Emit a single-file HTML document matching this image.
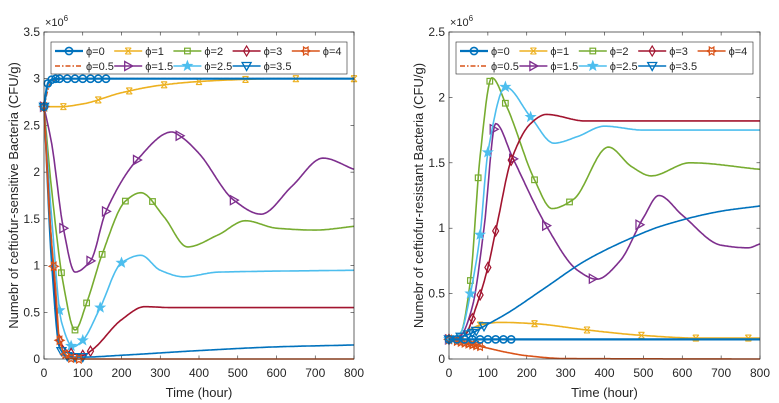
<!DOCTYPE html>
<html><head><meta charset="utf-8">
<style>
html,body{margin:0;padding:0;background:#fff;}
svg{display:block;font-family:"Liberation Sans",sans-serif;}
</style></head>
<body>
<svg id="c" width="779" height="403" viewBox="0 0 779 403"></svg>
<script>
// ---- Data (values in units of 1e6 CFU/g) ----
const L_t0=[0,10,20,30,40,60,80,100,120,140,160,800];
const L_v0=[2.7,2.95,2.99,3.0,3.0,3.0,3.0,3.0,3.0,3.0,3.0,3.0];
const L_t05=[0,10,20,30,50,100,800];
const L_v05=[2.7,2.88,2.97,2.99,3.0,3.0,3.0];
const L_t1=[0,40,100,200,300,400,500,600,800];
const L_v1=[2.7,2.7,2.73,2.85,2.93,2.97,2.99,3.0,3.0];
const L_t15=[0,20,50,80,120,160,240,330,350,400,490,560,640,720,800];
const L_v15=[2.7,2.3,1.4,0.93,1.05,1.58,2.13,2.43,2.39,2.2,1.7,1.55,1.85,2.15,2.03];
const L_t2=[0,20,50,80,110,150,210,250,310,370,450,520,600,700,800];
const L_v2=[2.7,1.8,0.8,0.31,0.6,1.12,1.69,1.78,1.52,1.2,1.33,1.48,1.4,1.38,1.42];
const L_t25=[0,20,45,75,100,145,200,250,300,360,450,800];
const L_v25=[2.7,1.5,0.4,0.13,0.2,0.55,1.03,1.11,0.95,0.88,0.93,0.95];
const L_t3=[0,20,40,70,100,125,200,260,330,800];
const L_v3=[2.7,1.2,0.2,0.06,0.04,0.1,0.42,0.56,0.55,0.55];
const L_t35=[0,20,40,60,80,100,200,400,600,800];
const L_v35=[2.7,1.0,0.12,0.03,0.02,0.02,0.04,0.09,0.13,0.15];
const L_t4=[0,15,30,40,55,70,90,800];
const L_v4=[2.7,1.5,0.75,0.2,0.05,0.01,0.0,0.0];

const R_t0=[0,40,80,120,160,800];
const R_v0=[0.15,0.15,0.15,0.15,0.15,0.15];
const R_t05=[0,100,800];
const R_v05=[0.15,0.15,0.15];
const R_t1=[0,40,80,130,220,360,500,640,770,800];
const R_v1=[0.15,0.2,0.26,0.28,0.27,0.22,0.18,0.16,0.16,0.16];
const R_t15=[0,30,60,90,120,165,250,330,380,440,500,540,600,700,770,800];
const R_v15=[0.15,0.18,0.4,1.0,1.8,1.53,1.02,0.68,0.61,0.75,1.08,1.25,1.1,0.87,0.85,0.88];
const R_t2=[0,30,55,80,110,150,220,265,320,410,470,520,620,800];
const R_v2=[0.15,0.2,0.6,1.55,2.15,1.92,1.37,1.15,1.22,1.62,1.47,1.4,1.5,1.45];
const R_t25=[0,30,55,80,100,145,210,270,330,400,500,800];
const R_v25=[0.15,0.2,0.5,0.95,1.58,2.08,1.85,1.65,1.7,1.78,1.75,1.75];
const R_t3=[0,40,70,100,125,160,210,250,350,800];
const R_v3=[0.15,0.18,0.4,0.7,1.05,1.52,1.8,1.87,1.82,1.82];
const R_t35=[0,30,60,90,150,250,350,450,550,700,800];
const R_v35=[0.15,0.17,0.2,0.25,0.35,0.55,0.75,0.9,1.02,1.13,1.17];
const R_t4=[0,30,60,90,150,200,300,800];
const R_v4=[0.15,0.13,0.11,0.09,0.05,0.025,0.003,0.0];

// marker times (hours) per series
const L_m0=[0,10,20,30,40,60,80,100,120,140,160];
const L_m05=[];
const L_m1=[0,50,140,220,310,400,520,650,800];
const L_m15=[0,50,120,160,240,350,490];
const L_m2=[0,45,80,110,150,210,280];
const L_m25=[0,40,70,100,145,200];
const L_m3=[0,40,70,100,120];
const L_m35=[0,45,60,80,100];
const L_m4=[0,25,40,55,70,90];
const R_m0=[0,20,40,60,80,100,120,140,160];
const R_m05=[];
const R_m1=[0,80,220,355,495,635,770];
const R_m15=[0,115,165,250,370,490];
const R_m2=[0,55,75,105,145,220,310];
const R_m25=[0,55,80,100,145,210];
const R_m3=[0,60,80,100,120,160];
const R_m35=[0,30,50,60,70,90];
const R_m4=[0,20,30,40,50,60,70,80];

const xTicks=[0,100,200,300,400,500,600,700,800];
const yTicksL=[0,0.5,1,1.5,2,2.5,3,3.5];
const yTicksR=[0,0.5,1,1.5,2,2.5];
const legendLabels=["\u03d5=0","\u03d5=1","\u03d5=2","\u03d5=3","\u03d5=4","\u03d5=0.5","\u03d5=1.5","\u03d5=2.5","\u03d5=3.5"];

const DATA={
 L_t0,L_v0,L_t05,L_v05,L_t1,L_v1,L_t15,L_v15,L_t2,L_v2,L_t25,L_v25,L_t3,L_v3,L_t35,L_v35,L_t4,L_v4,
 R_t0,R_v0,R_t05,R_v05,R_t1,R_v1,R_t15,R_v15,R_t2,R_v2,R_t25,R_v25,R_t3,R_v3,R_t35,R_v35,R_t4,R_v4,
 L_m0,L_m05,L_m1,L_m15,L_m2,L_m25,L_m3,L_m35,L_m4,R_m0,R_m05,R_m1,R_m15,R_m2,R_m25,R_m3,R_m35,R_m4
};

const C={b:"#0072BD",o:"#D95319",y:"#EDB120",p:"#7E2F8E",g:"#77AC30",c:"#4DBEEE",r:"#A2142F"};
const styles=[
 {k:"0",col:C.b,m:"o",w:2.2},{k:"05",col:C.o,m:"",w:1.6,dash:"5,2,1.5,2"},
 {k:"1",col:C.y,m:"x",w:1.6},{k:"15",col:C.p,m:">",w:1.6},
 {k:"2",col:C.g,m:"s",w:1.6},{k:"25",col:C.c,m:"*",w:1.6},
 {k:"3",col:C.r,m:"d",w:1.6},{k:"35",col:C.b,m:"v",w:1.6},
 {k:"4",col:C.o,m:"h",w:1.6}];
const drawOrder=["1","15","2","25","3","35","4","05","0"];
const legendOrder=["0","1","2","3","4","05","15","25","35"];

const NS="http://www.w3.org/2000/svg";
const svg=document.getElementById("c");
function el(tag,attrs,parent){const e=document.createElementNS(NS,tag);for(const a in attrs)e.setAttribute(a,attrs[a]);(parent||svg).appendChild(e);return e;}

function slopes(xs,ys){
 const m=xs.length,d=[],s=[];
 for(let i=0;i<m-1;i++)d.push((ys[i+1]-ys[i])/(xs[i+1]-xs[i]));
 for(let i=0;i<m;i++){
  if(i==0)s.push(d[0]);else if(i==m-1)s.push(d[m-2]);
  else s.push(d[i-1]*d[i]<=0?0:(2*d[i-1]*d[i])/(d[i-1]+d[i]));
 }
 return s;
}
function evalAt(xs,ys,s,x){
 let i=0;while(i<xs.length-2&&x>xs[i+1])i++;
 const h=xs[i+1]-xs[i],t=(x-xs[i])/h;
 const h00=2*t*t*t-3*t*t+1,h10=t*t*t-2*t*t+t,h01=-2*t*t*t+3*t*t,h11=t*t*t-t*t;
 return h00*ys[i]+h10*h*s[i]+h01*ys[i+1]+h11*h*s[i+1];
}

function marker(g,type,x,y,col){
 const r=3.6;
 if(type=="o")el("circle",{cx:x,cy:y,r:r,fill:"none",stroke:col,"stroke-width":1.6},g);
 else if(type=="s")el("rect",{x:x-2.8,y:y-2.8,width:5.6,height:5.6,fill:"none",stroke:col,"stroke-width":1.2},g);
 else if(type=="d")el("polygon",{points:`${x},${y-5} ${x+3},${y} ${x},${y+5} ${x-3},${y}`,fill:"none",stroke:col,"stroke-width":1.2},g);
 else if(type==">")el("polygon",{points:`${x-3.5},${y-4.5} ${x+4.5},${y} ${x-3.5},${y+4.5}`,fill:"none",stroke:col,"stroke-width":1.3},g);
 else if(type=="v")el("polygon",{points:`${x-4.5},${y-3.5} ${x+4.5},${y-3.5} ${x},${y+4.5}`,fill:"none",stroke:col,"stroke-width":1.3},g);
 else if(type=="x"){el("path",{d:`M${x-3},${y-3}L${x+3},${y+3}M${x-3},${y+3}L${x+3},${y-3}M${x-3},${y-3}L${x+3},${y-3}M${x-3},${y+3}L${x+3},${y+3}`,stroke:col,"stroke-width":1.1,fill:"none"},g);}
 else if(type=="*"){let p="";for(let k=0;k<10;k++){const a=-Math.PI/2+k*Math.PI/5,rr=k%2?2.3:5.5;p+=(x+rr*Math.cos(a)).toFixed(1)+","+(y+rr*Math.sin(a)).toFixed(1)+" ";}el("polygon",{points:p,fill:col,stroke:col,"stroke-width":0.6},g);}
 else if(type=="h"){let p="";for(let k=0;k<12;k++){const a=k*Math.PI/6,rr=k%2?2.5:4.6;p+=(x+rr*Math.cos(a)).toFixed(1)+","+(y+rr*Math.sin(a)).toFixed(1)+" ";}el("polygon",{points:p,fill:"none",stroke:col,"stroke-width":1.2},g);}
}

function panel(pre,x0,x1,y0,y1,ymax,yTicks,ylab,name){
 const top=y0,bot=y1;
 const X=t=>x0+(t/800)*(x1-x0), Y=v=>bot-(Math.max(0,v)/ymax)*(bot-top);
 const g=el("g",{});
 
 
 el("rect",{x:x0,y:top,width:x1-x0,height:bot-top,fill:"#fff",stroke:"none"},g);
 xTicks.forEach(t=>{
  el("line",{x1:X(t),x2:X(t),y1:bot,y2:bot-3.5,stroke:"#262626","stroke-width":0.6},g);
  el("line",{x1:X(t),x2:X(t),y1:top,y2:top+3.5,stroke:"#262626","stroke-width":0.6},g);
  const tx=el("text",{x:X(t),y:bot+18,"font-size":"12","text-anchor":"middle",fill:"#262626"},g);tx.textContent=t;
  
  
 });
 yTicks.forEach(v=>{
  el("line",{x1:x0,x2:x0+3.5,y1:Y(v),y2:Y(v),stroke:"#262626","stroke-width":0.6},g);
  el("line",{x1:x1,x2:x1-3.5,y1:Y(v),y2:Y(v),stroke:"#262626","stroke-width":0.6},g);
  const tx=el("text",{x:x0-4,y:Y(v)+4,"font-size":"12","text-anchor":"end",fill:"#262626"},g);tx.textContent=v;
  
  
 });
 const ex=el("text",{x:x0+1,y:top-6,"font-size":"11",fill:"#262626"},g);
 ex.innerHTML='\u00d710<tspan dy="-5" font-size="8">6</tspan>';
 
 
 drawOrder.forEach(k=>{
  const st=styles.find(s=>s.k==k);
  const ts=DATA[pre+"_t"+k],vs=DATA[pre+"_v"+k],ms=DATA[pre+"_m"+k];
  const s=slopes(ts,vs);
  const sg=el("g",{},g);
  
  
  let d="";
  for(let i=0;i<ts.length-1;i++){
   const h=ts[i+1]-ts[i],steps=Math.max(4,Math.round(h/3));
   for(let j=0;j<steps;j++){const t=ts[i]+h*j/steps;d+=(d?"L":"M")+X(t).toFixed(1)+","+Y(evalAt(ts,vs,s,t)).toFixed(1);}
  }
  d+="L"+X(ts[ts.length-1]).toFixed(1)+","+Y(vs[vs.length-1]).toFixed(1);
  const a={d:d,fill:"none",stroke:st.col,"stroke-width":st.w,"stroke-linejoin":"round"};
  if(st.dash)a["stroke-dasharray"]=st.dash;
  el("path",a,sg);
  if(st.m)ms.forEach(t=>marker(sg,st.m,X(t),Y(evalAt(ts,vs,s,t)),st.col));
 });
 el("rect",{x:x0,y:top,width:x1-x0,height:bot-top,fill:"none",stroke:"#262626","stroke-width":0.7},g);
 const xl=el("text",{x:(x0+x1)/2,y:bot+38,"font-size":"13","text-anchor":"middle",fill:"#262626"},g);xl.textContent="Time (hour)";
 
 
 const cy=(top+bot)/2;
 const yl=el("text",{x:x0-26,y:cy,"font-size":"13","text-anchor":"middle",fill:"#262626",transform:`rotate(-90 ${x0-26} ${cy})`},g);yl.textContent=ylab;
 
 
 const lw=x1-x0-14, lx=x0+7, ly=top+10;
 const lg=el("g",{},g);
 
 
 el("rect",{x:lx,y:ly,width:lw,height:32,fill:"#fff",stroke:"#262626","stroke-width":0.6},lg);
 const colW=lw/5;
 legendOrder.forEach((k,i)=>{
  const st=styles.find(s=>s.k==k);
  const row=i<5?0:1,col=i<5?i:i-5;
  const ex0=lx+4+col*colW, ey=ly+9+row*15;
  const eg=el("g",{},lg);
  
  
  const a={x1:ex0,x2:ex0+28,y1:ey,y2:ey,stroke:st.col,"stroke-width":st.w};
  if(st.dash)a["stroke-dasharray"]=st.dash;
  el("line",a,eg);
  if(st.m)marker(eg,st.m,ex0+14,ey,st.col);
  const tx=el("text",{x:ex0+31,y:ey+4,"font-size":"11",fill:"#262626"},eg);tx.textContent=legendLabels[i];
 });
}
panel("L",44,354,32,359,3.5,yTicksL,"Numebr of ceftiofur-sensitive Bacteria (CFU/g)","left-panel");
panel("R",449,760,32,359,2.5,yTicksR,"Numebr of ceftiofur-resistant Bacteria (CFU/g)","right-panel");
</script>
</body></html>
